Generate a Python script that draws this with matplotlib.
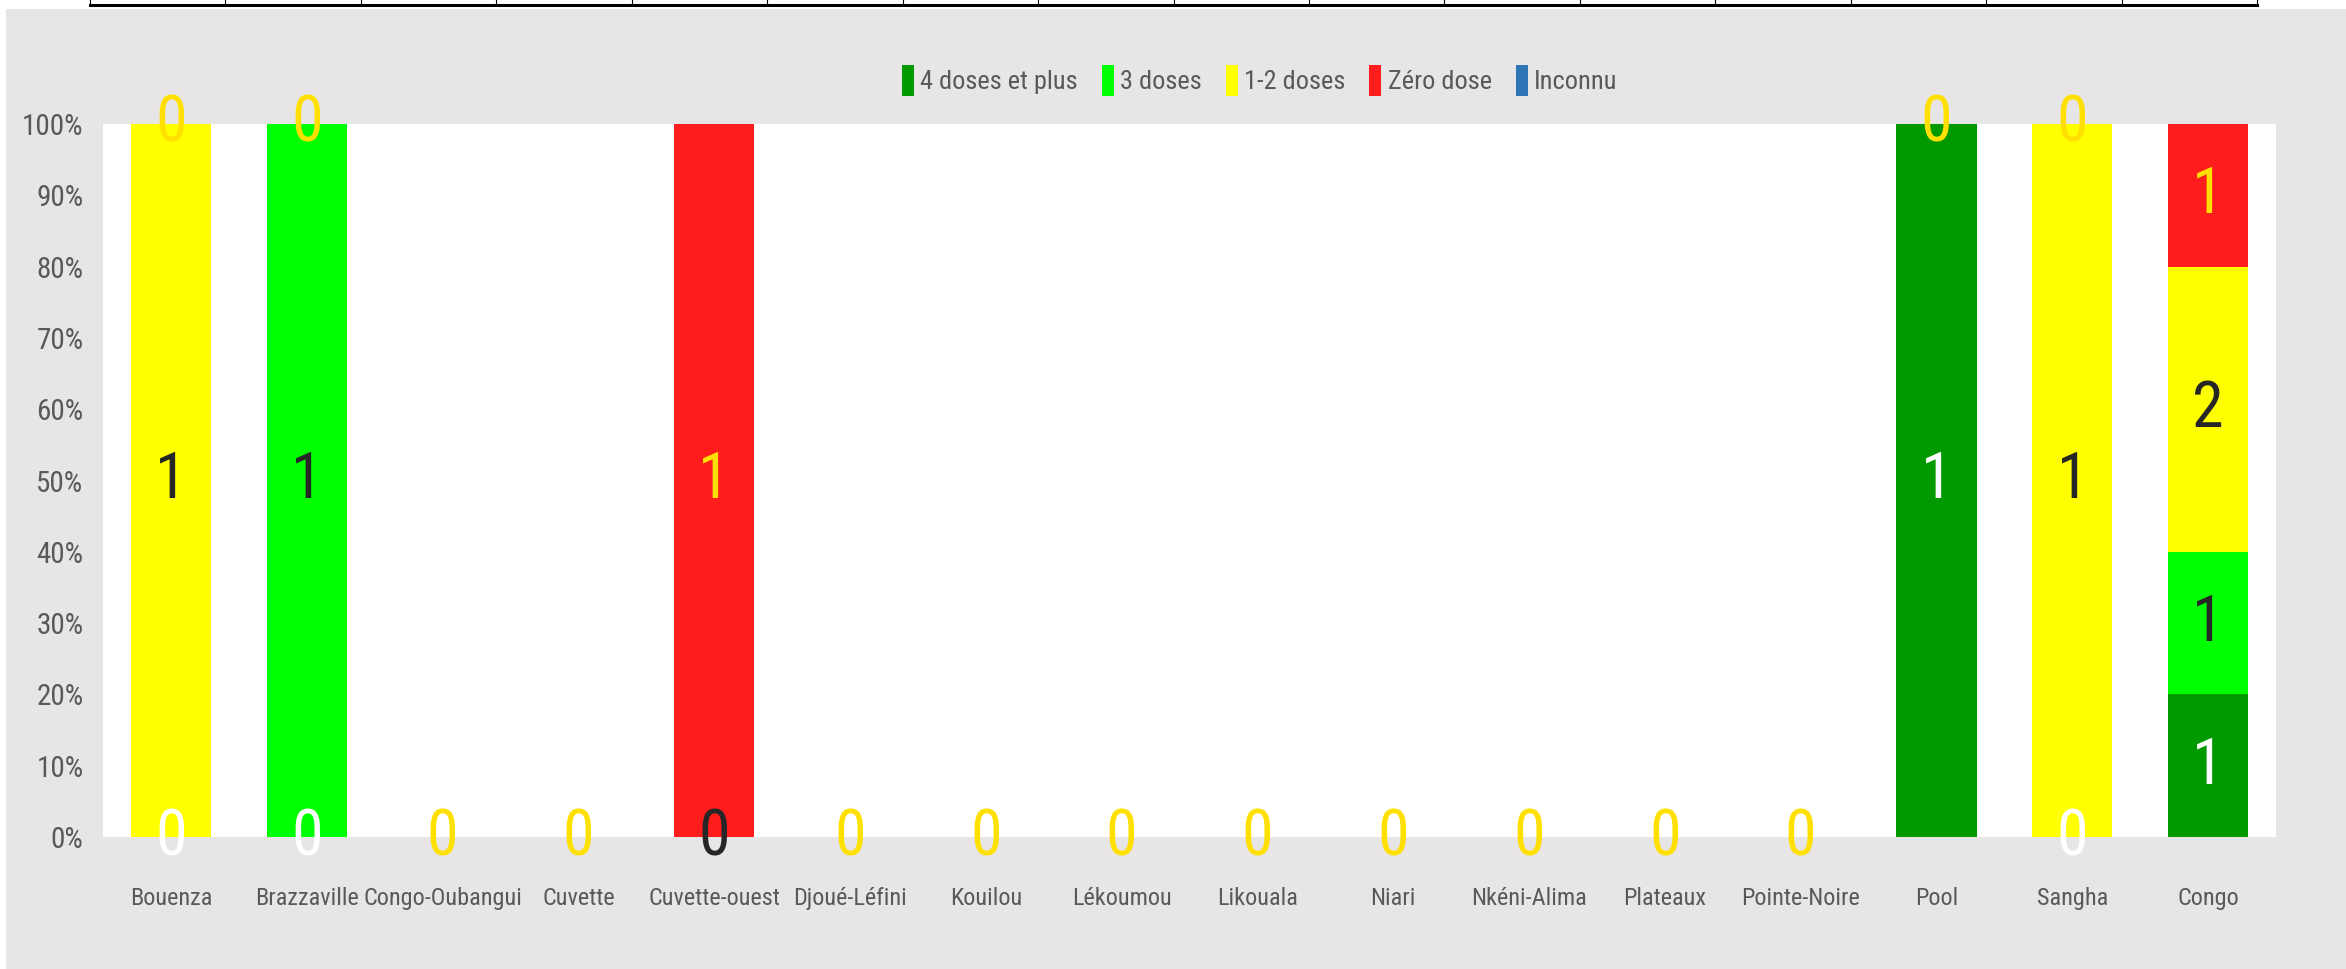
import os
import numpy as np
import matplotlib
matplotlib.use("Agg")
import matplotlib.pyplot as plt
from matplotlib import font_manager
from matplotlib.font_manager import FontProperties
from matplotlib.patches import Rectangle
from matplotlib.lines import Line2D

W, H = 2346, 969
nan = np.nan

regions = ["Bouenza", "Brazzaville", "Congo-Oubangui", "Cuvette", "Cuvette-ouest",
           "Djoué-Léfini", "Kouilou", "Lékoumou", "Likouala", "Niari", "Nkéni-Alima",
           "Plateaux", "Pointe-Noire", "Pool", "Sangha", "Congo"]

# nan = pas d'etiquette affichee
doses4 = [0, 0, 0, 0, 0, 0, 0, 0, 0, 0, 0, 0, 0, 1, 0, 1]
doses3 = [nan, 1, 0, 0, 0, 0, 0, 0, 0, 0, 0, 0, 0, 0, nan, 1]
doses12 = [1, nan, 0, 0, 0, 0, 0, 0, 0, 0, 0, 0, 0, 0, 1, 2]
zero_dose = [0, 0, 0, 0, 1, 0, 0, 0, 0, 0, 0, 0, 0, 0, 0, 1]
inconnu = [nan] * 16

series_names = ["4 doses et plus", "3 doses", "1-2 doses", "Zéro dose", "Inconnu"]
series_vals = [doses4, doses3, doses12, zero_dose, inconnu]
bar_colors = ["#009900", "#00FF00", "#FFFF00", "#FF1C1C", "#2E75B6"]
lab_colors = ["#FFFFFF", "#262626", "#262626", "#FFE000", "#FFFF00"]


def pick_narrow():
    # cherche une police etroite installee
    bad = ["bold", "italic", "oblique", "light", "thin", "medium", "black", "semi",
           "extra", "ultra", "heavy", "demi"]
    found = []
    for f in font_manager.fontManager.ttflist:
        b = os.path.basename(f.fname).lower()
        if ("narrow" in b or "condensed" in b or "cond" in b) and not any(w in b.replace("condensed", "") for w in bad):
            found.append(f.fname)
    order = ["liberationsansnarrow", "robotocondensed", "notosans", "dejavusans", "opensans"]
    for key in order:
        for fn in found:
            if key in os.path.basename(fn).lower().replace("-", "").replace("_", ""):
                return FontProperties(fname=fn), True
    if found:
        return FontProperties(fname=found[0]), True
    return FontProperties(family="Roboto"), False


fp, narrow = pick_narrow()
k = 1.0 if narrow else 0.82

fig = plt.figure(figsize=(W / 100, H / 100), dpi=100, facecolor="white")
fig.add_artist(Rectangle((6 / W, 0), 1 - 6 / W, 1 - 9 / H, transform=fig.transFigure,
                         facecolor="#E7E5E6", edgecolor="none", zorder=-5))

# bout de tableau en haut
fig.add_artist(Line2D([90 / W, 2257 / W], [1 - 5 / H, 1 - 5 / H], color="black", lw=2.2,
                      transform=fig.transFigure))
for px in np.linspace(90, 2257, 17):
    fig.add_artist(Line2D([px / W, px / W], [1, 1 - 5 / H], color="black", lw=0.8,
                          transform=fig.transFigure))

ax = fig.add_axes([103 / W, 1 - 837 / H, (2276 - 103) / W, (837 - 124) / H])
ax.set_facecolor("white")

vals = np.array(series_vals, dtype=float)
heights = np.nan_to_num(vals)
totals = heights.sum(axis=0)
pct = np.divide(heights, totals, out=np.zeros_like(heights), where=totals > 0)
bottoms = np.vstack([np.zeros(len(regions)), np.cumsum(pct, axis=0)[:-1]])

x = np.arange(len(regions))
for i in range(len(series_names)):
    ax.bar(x, pct[i], bottom=bottoms[i], width=0.59, color=bar_colors[i],
           label=series_names[i], edgecolor="none", zorder=2)

# etiquettes : seule la derniere serie a une meme position reste visible
vfp = fp.copy()
vfp.set_size(46 * k)
for j in range(len(regions)):
    seen = []
    for i in reversed(range(len(series_names))):
        if np.isnan(vals[i, j]):
            continue
        y = bottoms[i, j] + pct[i, j] / 2
        if any(abs(y - s) < 1e-6 for s in seen):
            continue
        seen.append(y)
        ax.text(x[j], y, str(int(vals[i, j])), ha="center", va="center",
                color=lab_colors[i], fontproperties=vfp, zorder=5 + i, clip_on=False)

ax.set_xlim(-0.5, len(regions) - 0.5)
ax.set_ylim(0, 1)
for s in ax.spines.values():
    s.set_visible(False)
yt = np.arange(0, 1.01, 0.1)
ax.set_yticks(yt)
ax.set_yticklabels([f"{int(round(t * 100))}%" for t in yt])
ax.set_xticks(x)
ax.set_xticklabels(regions)
ax.tick_params(axis="y", length=0, pad=14, labelcolor="#595959")
ax.tick_params(axis="x", length=0, pad=36, labelcolor="#595959")
for t in ax.get_yticklabels():
    t.set_fontproperties(fp)
    t.set_fontsize(21 * k)
for t in ax.get_xticklabels():
    t.set_fontproperties(fp)
    t.set_fontsize(17.5 * k)

lfp = fp.copy()
lfp.set_size(19 * k)
fig.legend(loc="center", bbox_to_anchor=(0.537, 0.917), ncol=5, frameon=False,
           prop=lfp, labelcolor="#595959", handlelength=0.45, handleheight=1.4,
           handletextpad=0.25, columnspacing=0.9)

fig.savefig("out.png", dpi=100, facecolor=fig.get_facecolor())
